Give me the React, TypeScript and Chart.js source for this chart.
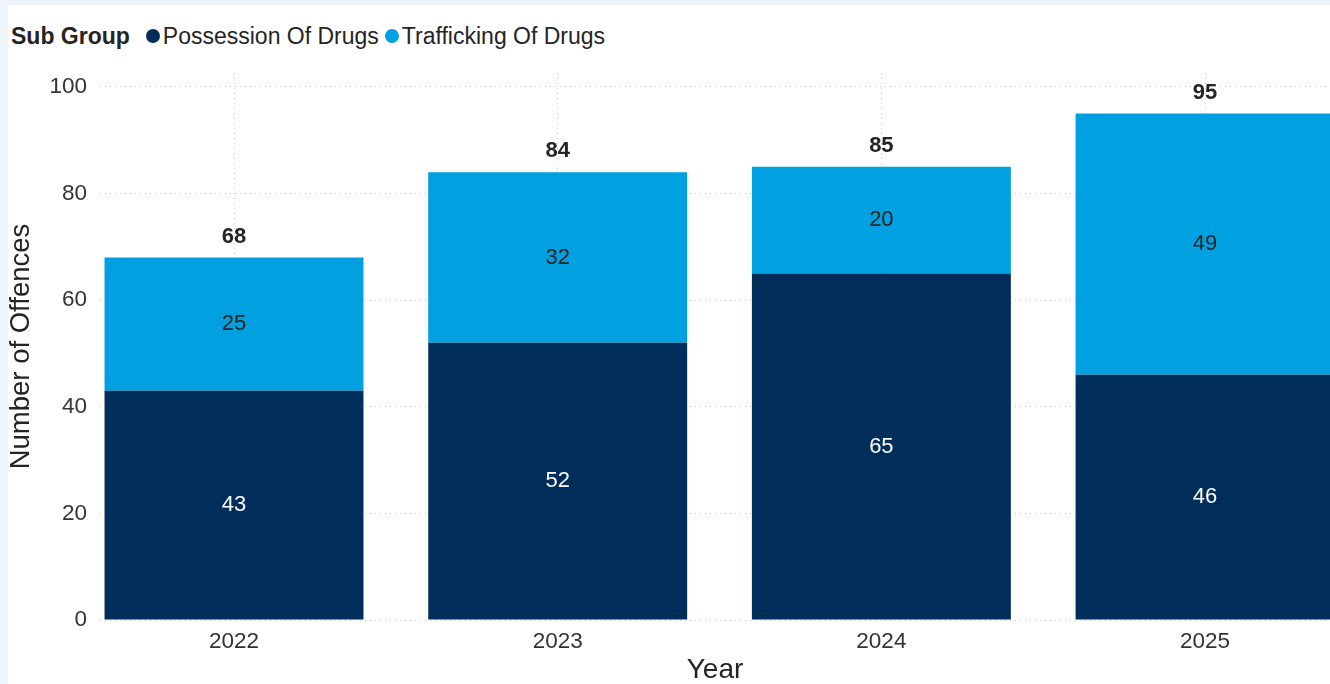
import React, { useEffect, useRef } from "react";
import { Chart, registerables } from "chart.js";

Chart.register(...registerables);

const years = ["2022", "2023", "2024", "2025"];
const possession = [43, 52, 65, 46];
const trafficking = [25, 32, 20, 49];
const yTicks = [0, 20, 40, 60, 80, 100];
const seriesNames = ["Possession Of Drugs", "Trafficking Of Drugs"];
const seriesColors = ["#002D5A", "#00A0E1"];
const labelColors = ["#ffffff", "#252423"];
const legendTitle = "Sub Group";
const xTitle = "Year";
const yTitle = "Number of Offences";

const FONT = "'Liberation Sans', Arial, sans-serif";

const seriesValues = [possession, trafficking];

const labelPlugin = {
  id: "barLabels",
  afterDatasetsDraw(chart: any) {
    const ctx = chart.ctx;
    ctx.save();
    ctx.textAlign = "center";
    ctx.textBaseline = "middle";
    chart.data.datasets.forEach((_: any, di: number) => {
      const meta = chart.getDatasetMeta(di);
      meta.data.forEach((bar: any, i: number) => {
        const p = bar.getProps(["x", "y", "base"], true);
        ctx.fillStyle = labelColors[di];
        ctx.font = `22px ${FONT}`;
        ctx.fillText(String(seriesValues[di][i]), p.x, (p.y + p.base) / 2);
      });
    });
    const topMeta = chart.getDatasetMeta(chart.data.datasets.length - 1);
    topMeta.data.forEach((bar: any, i: number) => {
      const p = bar.getProps(["x", "y"], true);
      const total = possession[i] + trafficking[i];
      ctx.fillStyle = "#252423";
      ctx.font = `bold 22px ${FONT}`;
      ctx.fillText(String(total), p.x, p.y - 21);
    });
    ctx.restore();
  },
};

export default function App() {
  const ref = useRef<HTMLCanvasElement>(null);

  useEffect(() => {
    document.body.style.margin = "0";
    const canvas = ref.current!;
    const chart = new Chart(canvas, {
      type: "bar",
      data: {
        datasets: seriesNames.map((name, di) => ({
          label: name,
          data: seriesValues[di].map((v, i) => ({ x: i, y: v })),
          backgroundColor: seriesColors[di],
          borderWidth: 0,
          categoryPercentage: 1,
          barPercentage: 0.8,
        })),
      },
      options: {
        animation: false,
        responsive: false,
        maintainAspectRatio: false,
        layout: { padding: { top: 68, right: 0, left: 0, bottom: 0 } },
        plugins: {
          legend: { display: false },
          tooltip: { enabled: false },
        },
        scales: {
          x: {
            type: "linear",
            min: -0.414,
            max: 3.386,
            offset: false,
            stacked: true,
            afterBuildTicks: (s: any) => {
              s.ticks = years.map((_, i) => ({ value: i }));
            },
            afterFit: (s: any) => {
              s.height = 64;
            },
            ticks: {
              callback: (v: any) => years[v] ?? "",
              autoSkip: false,
              maxRotation: 0,
              padding: 8,
              color: "#333333",
              font: { family: FONT, size: 22.5 },
            },
            grid: { offset: false, color: "#c8c8c8", lineWidth: 1, drawTicks: false },
            border: { display: false, dash: [1, 4] },
            title: {
              display: true,
              text: xTitle,
              color: "#252423",
              font: { family: FONT, size: 28, lineHeight: 1 },
              padding: { top: 0, bottom: 0 },
            },
          },
          y: {
            type: "linear",
            min: 0,
            max: 102.6,
            stacked: true,
            afterBuildTicks: (s: any) => {
              s.ticks = yTicks.map((v) => ({ value: v }));
            },
            afterFit: (s: any) => {
              s.width = 92;
            },
            ticks: {
              padding: 13,
              color: "#333333",
              font: { family: FONT, size: 22.5 },
            },
            grid: { color: "#c8c8c8", lineWidth: 1, drawTicks: false },
            border: { display: false, dash: [1, 4] },
            title: {
              display: true,
              text: yTitle,
              color: "#252423",
              font: { family: FONT, size: 27.5, lineHeight: 1 },
              padding: { top: 0, bottom: 0 },
            },
          },
        },
      },
      plugins: [labelPlugin],
    } as any);
    return () => chart.destroy();
  }, []);

  const dot = (c: string) => (
    <span
      style={{
        display: "inline-block",
        width: 14,
        height: 14,
        borderRadius: 7,
        background: c,
        marginRight: 3,
      }}
    />
  );

  return (
    <div
      style={{
        position: "fixed",
        left: 0,
        top: 0,
        width: 1330,
        height: 684,
        background: "#edf4fc",
        overflow: "hidden",
      }}
    >
      <div
        style={{
          position: "absolute",
          left: 8,
          top: 5,
          width: 1400,
          height: 700,
          background: "#ffffff",
        }}
      />
      <div
        style={{
          position: "absolute",
          left: 11,
          top: 22,
          height: 28,
          display: "flex",
          alignItems: "center",
          fontFamily: FONT,
          fontSize: 23,
          color: "#252423",
          whiteSpace: "nowrap",
        }}
      >
        <span style={{ fontWeight: 700, marginRight: 16 }}>{legendTitle}</span>
        {dot(seriesColors[0])}
        <span style={{ marginRight: 6 }}>{seriesNames[0]}</span>
        {dot(seriesColors[1])}
        <span>{seriesNames[1]}</span>
      </div>
      <canvas
        ref={ref}
        width={1322}
        height={679}
        style={{ position: "absolute", left: 8, top: 5, width: 1322, height: 679 }}
      />
    </div>
  );
}
